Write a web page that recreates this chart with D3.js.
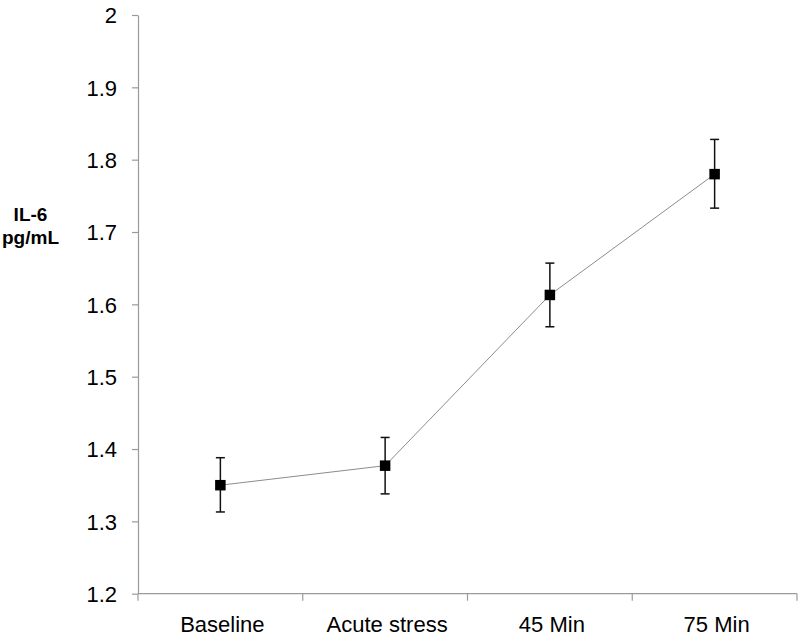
<!DOCTYPE html>
<html>
<head>
<meta charset="utf-8">
<script src="https://cdn.jsdelivr.net/npm/d3@7"></script>
<style>
  html, body { margin: 0; padding: 0; background: #fff; }
  svg { display: block; }
  text { font-family: "Liberation Sans", Arial, Helvetica, sans-serif; fill: #000; }
</style>
</head>
<body>
<svg id="chart" width="799" height="637"></svg>
<script>
const categories = ["Baseline", "Acute stress", "45 Min", "75 Min"];
const means = [1.350, 1.377, 1.613, 1.780];
const errLow = [1.313, 1.338, 1.569, 1.733];
const errHigh = [1.388, 1.416, 1.657, 1.828];
const yTicks = [1.2, 1.3, 1.4, 1.5, 1.6, 1.7, 1.8, 1.9, 2];
const yLabelLines = ["IL-6", "pg/mL"];

const svg = d3.select("#chart");
const plotLeft = 138, plotRight = 797, plotTop = 15, plotBottom = 593.7;

const x = d3.scaleBand().domain(categories).range([plotLeft, plotRight]).padding(0);
const y = d3.scaleLinear().domain([1.2, 2]).range([plotBottom, plotTop]);

const axisColor = "#9a9a9a";

// Y axis
const yAxis = d3.axisLeft(y).tickValues(yTicks).tickSize(6).tickSizeOuter(0)
  .tickFormat(d => String(+d.toFixed(1)));
const gy = svg.append("g").attr("transform", `translate(${plotLeft},0)`).call(yAxis);
gy.select(".domain").attr("stroke", axisColor).attr("stroke-width", 1.2);
gy.selectAll(".tick line").attr("stroke", axisColor).attr("stroke-width", 1.2);
gy.selectAll(".tick text")
  .attr("x", -21).attr("dy", "0.36em")
  .style("font-size", "22px").style("font-family", "'Liberation Sans', Arial, sans-serif").attr("fill", "#000");

// X axis (line + boundary ticks)
const gx = svg.append("g");
gx.append("line").attr("x1", plotLeft).attr("x2", plotRight).attr("y1", y(1.2)).attr("y2", y(1.2))
  .attr("stroke", axisColor).attr("stroke-width", 1.2);
const bounds = [x(categories[0])].concat(categories.map(c => x(c) + x.bandwidth()));
gx.selectAll("line.xt").data(bounds).join("line").attr("class", "xt")
  .attr("x1", d => d).attr("x2", d => d).attr("y1", y(1.2)).attr("y2", y(1.2) + 7)
  .attr("stroke", axisColor).attr("stroke-width", 1.2);
gx.selectAll("text.xl").data(categories).join("text").attr("class", "xl")
  .attr("x", d => x(d) + x.bandwidth() / 2 + 2)
  .attr("y", 631.5)
  .attr("text-anchor", "middle")
  .style("font-size", "22px")
  .text(d => d);

// Y label
svg.append("g").selectAll("text").data(yLabelLines).join("text")
  .attr("x", 30.5).attr("y", (d, i) => 221 + i * 22.5)
  .attr("text-anchor", "middle")
  .style("font-size", "19px").style("font-weight", "bold")
  .text(d => d);

const cx = i => x(categories[i]) + x.bandwidth() / 2;

// Connecting line
const line = d3.line().x((d, i) => cx(i)).y(d => y(d));
svg.append("path").datum(means).attr("d", line)
  .attr("fill", "none").attr("stroke", "#8c8c8c").attr("stroke-width", 1);

// Error bars
const eb = svg.append("g").attr("stroke", "#111").attr("stroke-width", 1.5);
means.forEach((m, i) => {
  eb.append("line").attr("x1", cx(i)).attr("x2", cx(i)).attr("y1", y(errLow[i])).attr("y2", y(errHigh[i]));
  eb.append("line").attr("x1", cx(i) - 4.5).attr("x2", cx(i) + 4.5).attr("y1", y(errLow[i])).attr("y2", y(errLow[i]));
  eb.append("line").attr("x1", cx(i) - 4.5).attr("x2", cx(i) + 4.5).attr("y1", y(errHigh[i])).attr("y2", y(errHigh[i]));
});

// Markers
const ms = 10.5;
svg.append("g").selectAll("rect").data(means).join("rect")
  .attr("x", (d, i) => cx(i) - ms / 2).attr("y", d => y(d) - ms / 2)
  .attr("width", ms).attr("height", ms).attr("fill", "#000");
</script>
</body>
</html>
